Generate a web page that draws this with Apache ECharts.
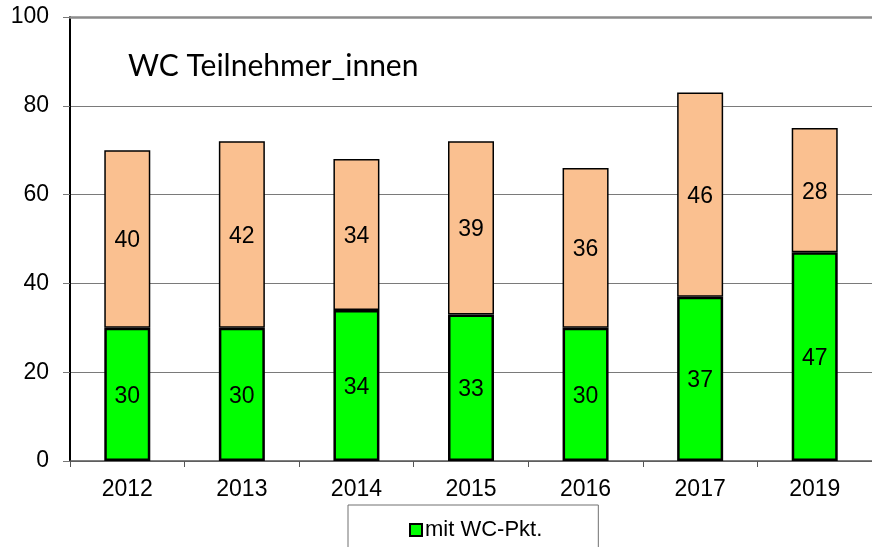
<!DOCTYPE html>
<html>
<head>
<meta charset="utf-8">
<script src="https://cdn.jsdelivr.net/npm/echarts@6/dist/echarts.min.js"></script>
<style>html,body{margin:0;padding:0;background:#fff}#c{width:872px;height:547px}</style>
</head>
<body>
<div id="c"></div>
<script>
const categories = ['2012', '2013', '2014', '2015', '2016', '2017', '2019'];
const mitWC = [30, 30, 34, 33, 30, 37, 47];
const ohneWC = [40, 42, 34, 39, 36, 46, 28];
const yTicks = [0, 20, 40, 60, 80, 100];
const titleText = 'WC Teilnehmer_innen';
const legendName = 'mit WC-Pkt.';

const chart = echarts.init(document.getElementById('c'), null, {renderer: 'canvas'});
const font = '"Liberation Sans", Arial, sans-serif';
chart.setOption({
  animation: false,
  backgroundColor: '#fff',
  title: {
    text: titleText, left: 128, top: 51, padding: 0,
    textStyle: {fontFamily: 'Lato, "Open Sans", sans-serif', fontWeight: 'normal', fontSize: 30, lineHeight: 30, color: '#000'}
  },
  legend: {
    data: [legendName], left: 348, top: 505,
    padding: [14, 56, 30, 61],
    borderColor: '#707070', borderWidth: 1,
    itemWidth: 12, itemHeight: 12, itemGap: 5,
    icon: 'rect',
    textStyle: {fontFamily: font, fontSize: 22, lineHeight: 22, color: '#000', padding: [0, 0, 0, -2]}
  },
  grid: {left: 70, top: 17, bottom: 86, width: 806, containLabel: false},
  xAxis: [{
    type: 'category', data: categories,
    axisLine: {lineStyle: {color: '#555', width: 1.5}},
    axisTick: {show: true, length: 6, lineStyle: {color: '#555'}},
    axisLabel: {fontFamily: font, fontSize: 23, lineHeight: 23, color: '#000', margin: 17}
  }, {
    type: 'category', data: categories, position: 'top',
    axisLine: {lineStyle: {color: '#8c8c8c', width: 2.5}},
    axisTick: {show: false}, axisLabel: {show: false}
  }],
  yAxis: {
    type: 'value', min: yTicks[0], max: yTicks[yTicks.length - 1], interval: 20,
    axisLine: {show: true, lineStyle: {color: '#000', width: 2}},
    axisTick: {show: true, length: 7, lineStyle: {color: '#777'}},
    splitLine: {show: true, lineStyle: {color: '#7a7a7a', width: 1}},
    axisLabel: {fontFamily: font, fontSize: 23, color: '#000', margin: 21}
  },
  series: [{
    name: legendName, type: 'bar', stack: 'a', data: mitWC, barWidth: 46,
    itemStyle: {color: '#00ff00', borderColor: '#000', borderWidth: 2.5},
    label: {show: true, position: 'inside', fontFamily: font, fontSize: 23, color: '#000', offset: [0, 2]}
  }, {
    name: 'ohne WC-Pkt.', type: 'bar', stack: 'a', data: ohneWC, barWidth: 46,
    itemStyle: {color: '#fac090', borderColor: '#000', borderWidth: 1.5},
    label: {show: true, position: 'inside', fontFamily: font, fontSize: 23, color: '#000', offset: [0, 2]}
  }]
});
</script>
</body>
</html>
